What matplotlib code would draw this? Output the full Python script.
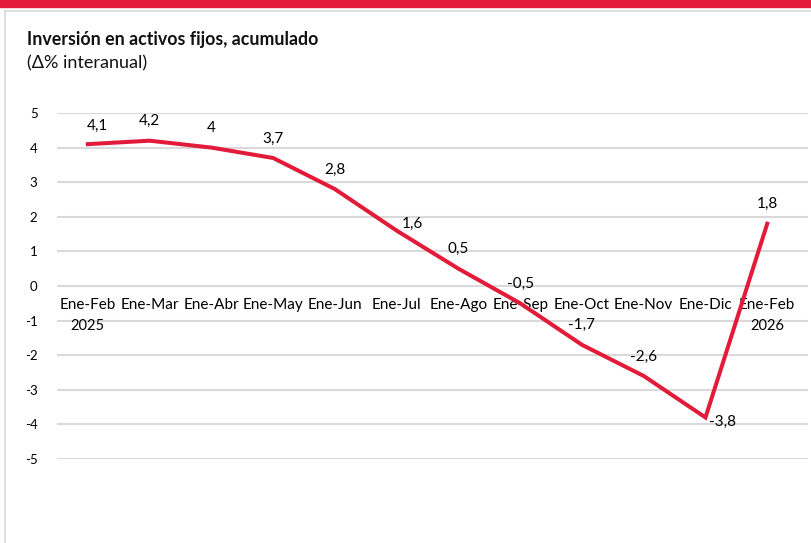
import matplotlib.pyplot as plt
from matplotlib import font_manager
from matplotlib.lines import Line2D
from matplotlib.patches import Rectangle

meses = ["Ene-Feb", "Ene-Mar", "Ene-Abr", "Ene-May", "Ene-Jun", "Ene-Jul",
         "Ene-Ago", "Ene-Sep", "Ene-Oct", "Ene-Nov", "Ene-Dic", "Ene-Feb"]
anios = ["2025", "", "", "", "", "", "", "", "", "", "", "2026"]
valores = [4.1, 4.2, 4.0, 3.7, 2.8, 1.6, 0.5, -0.5, -1.7, -2.6, -3.8, 1.8]
yticks = [5, 4, 3, 2, 1, 0, -1, -2, -3, -4, -5]

names = {f.name for f in font_manager.fontManager.ttflist}
fam = "Liberation Sans Narrow" if "Liberation Sans Narrow" in names else "Lato"
plt.rcParams['font.family'] = [fam, 'DejaVu Sans']

rojo = "#E31B3A"

fig = plt.figure(figsize=(8.11, 5.43), dpi=100)
# red top bar and light frame
fig.patches.append(Rectangle((0, 1 - 7 / 543), 1, 7 / 543, transform=fig.transFigure,
                             color=rojo, zorder=0))
fig.lines.append(Line2D([5 / 811, 5 / 811], [0, 1 - 11 / 543], transform=fig.transFigure,
                        color="#d9d9d9", lw=1.2))
fig.lines.append(Line2D([5 / 811, 1], [1 - 11 / 543, 1 - 11 / 543], transform=fig.transFigure,
                        color="#d9d9d9", lw=1.2))

fig.text(27 / 811, 1 - 40 / 543, "Inversión en activos fijos, acumulado",
         fontsize=12.8, fontweight="bold", va="center", ha="left", color="#111111")
fig.text(27 / 811, 1 - 63 / 543, "(Δ% interanual)", fontsize=13, va="center",
         ha="left", color="#111111")

ax = fig.add_axes([57 / 811, 1 - 459 / 543, (808 - 57) / 811, (459 - 113) / 543])
x = list(range(len(valores)))
ax.plot(x, valores, color=rojo, lw=2.9, solid_joinstyle="miter", zorder=3)

ax.set_xlim(-0.5, 11.66)
ax.set_ylim(-5, 5)
ax.set_yticks(yticks)
ax.set_yticklabels([str(v) for v in yticks], fontsize=9.5)
ax.tick_params(axis="y", length=0, pad=14)
ax.set_xticks([])
for y in yticks:
    ax.axhline(y, color="#d9d9d9", lw=1.5, zorder=1)
for s in ax.spines.values():
    s.set_visible(False)

for i, (m, a) in enumerate(zip(meses, anios)):
    ax.annotate(m, (i, 0), xytext=(0, -14), textcoords="offset points",
                ha="center", va="center", fontsize=11, zorder=2)
    if a:
        ax.annotate(a, (i, 0), xytext=(0, -29), textcoords="offset points",
                    ha="center", va="center", fontsize=10.5)

offsets = {0: (7, 13), 5: (11, 5), 10: (12, -3)}
for i, v in enumerate(valores):
    etiqueta = f"{v:g}".replace(".", ",")
    dx, dy = offsets.get(i, (0, 14))
    ax.annotate(etiqueta, (i, v), xytext=(dx, dy), textcoords="offset points",
                ha="center", va="center", fontsize=11, zorder=4)

fig.savefig("out.png", dpi=100)
